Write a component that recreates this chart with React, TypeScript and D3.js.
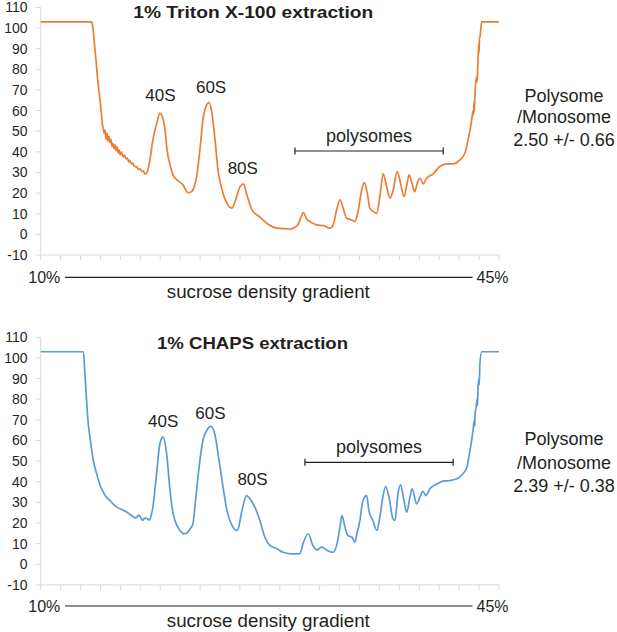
import React from "react";
import * as d3 from "d3";

type Pt = [number, number];

// Fraction index (0..23) vs absorbance (%)
const tritonTrace: Pt[] = [
  [0, 103], [2.56, 103], [2.62, 100], [2.7, 92], [2.77, 85], [2.86, 75], [2.98, 65], [3.06, 57], [3.1, 53],
  [3.13, 52], [3.18, 49], [3.23, 50.5], [3.28, 46], [3.33, 49], [3.38, 45], [3.43, 47.5], [3.48, 44.5],
  [3.53, 46], [3.58, 42.5], [3.63, 44], [3.68, 41.5], [3.73, 43.5], [3.78, 40.5], [3.83, 42.5], [3.88, 39.5],
  [3.93, 41], [3.98, 38.5], [4.05, 40], [4.13, 37.5], [4.2, 38.5], [4.28, 36.5], [4.35, 37], [4.42, 35],
  [4.47, 36], [4.55, 34], [4.63, 34.5], [4.7, 33], [4.82, 32.7], [4.9, 31.5], [4.98, 31.8], [5.08, 30.5],
  [5.15, 30.8], [5.23, 29.2], [5.28, 29.5], [5.33, 30], [5.4, 32], [5.48, 36], [5.63, 45.8], [5.83, 54],
  [5.98, 58.8], [6.09, 57.5], [6.24, 50.6], [6.34, 41], [6.49, 33.7], [6.64, 28.8], [6.84, 26.4], [7.14, 24],
  [7.39, 20.2], [7.54, 20.5], [7.64, 21.5], [7.84, 28.8], [7.99, 41], [8.14, 55.5], [8.34, 63], [8.44, 64],
  [8.59, 59], [8.75, 45.8], [8.9, 31], [9.1, 21.5], [9.35, 15], [9.6, 12.7], [9.75, 15.7], [10.0, 23],
  [10.17, 24.5], [10.35, 19], [10.6, 11.9], [11.0, 8.4], [11.4, 5], [11.86, 3], [12.51, 2.6], [12.67, 3],
  [12.9, 4.5], [13.05, 8], [13.18, 10.5], [13.35, 7.5], [13.51, 6.2], [13.85, 4.6], [14.2, 4.2], [14.52, 3],
  [14.68, 4.6], [14.85, 11.8], [15.02, 16.7], [15.18, 12.7], [15.35, 7.8], [15.6, 7], [15.77, 6.2],
  [15.94, 11.8], [16.11, 21.5], [16.24, 25.1], [16.39, 20], [16.52, 12.7], [16.69, 11], [16.86, 10.2],
  [17.02, 18.3], [17.19, 29.3], [17.36, 23.2], [17.53, 17.5], [17.69, 21.5], [17.89, 30.4], [18.06, 24.8],
  [18.23, 18.3], [18.36, 23.2], [18.49, 28.8], [18.63, 24.8], [18.77, 20.7], [18.9, 24.8], [19.03, 27.2],
  [19.2, 24.5], [19.37, 27.2], [19.7, 29.3], [20.03, 32.9], [20.37, 34.2], [20.7, 34.2], [21.04, 36.1],
  [21.29, 39.4], [21.45, 45.8], [21.63, 55.5], [21.7, 60], [21.72, 58], [21.74, 64], [21.76, 59.5],
  [21.79, 66.9], [21.88, 76.6], [21.9, 73.8], [21.92, 77], [21.96, 87.9], [21.99, 92.5], [22.0, 88],
  [22.02, 95], [22.05, 96], [22.13, 103], [23, 103],
];

const chapsTrace: Pt[] = [
  [0, 103], [2.14, 103], [2.22, 92], [2.3, 80], [2.37, 69.8], [2.47, 61.7], [2.64, 50.3], [2.81, 43.9],
  [2.98, 38.2], [3.14, 35], [3.3, 32.5], [3.48, 30.9], [3.65, 29], [3.83, 27.7], [4.0, 26.8], [4.15, 26.2],
  [4.33, 25.2], [4.5, 24], [4.63, 23.2], [4.75, 22.5], [4.83, 22.8], [4.9, 23.8], [4.98, 23.2], [5.05, 22.2],
  [5.13, 21.2], [5.2, 22.4], [5.33, 22.2], [5.42, 21.5], [5.48, 21.7], [5.55, 24], [5.63, 27.7], [5.73, 36],
  [5.83, 45.5], [5.98, 58.4], [6.14, 61.7], [6.32, 53.6], [6.49, 35.8], [6.6, 27], [6.74, 21.2], [6.99, 16.4],
  [7.19, 14.8], [7.34, 15.2], [7.49, 17], [7.64, 19.6], [7.74, 28], [7.84, 37.4], [7.99, 50.3], [8.14, 60],
  [8.34, 64.9], [8.54, 66.8], [8.75, 62.5], [8.9, 53.6], [9.1, 40.6], [9.35, 26], [9.65, 18], [9.8, 16.4],
  [9.9, 17], [10.1, 26], [10.34, 33.3], [10.5, 31.7], [10.75, 27.7], [11.0, 21.2], [11.25, 13.1], [11.5, 9.1],
  [11.86, 7.5], [12.16, 5.8], [12.66, 5], [13.01, 5.2], [13.16, 9.9], [13.43, 14.8], [13.66, 9.1], [13.86, 7],
  [14.11, 8.3], [14.37, 6.7], [14.67, 5.8], [14.87, 9.9], [15.02, 18], [15.12, 23.6], [15.27, 18],
  [15.42, 13.9], [15.62, 13.1], [15.77, 10.7], [15.87, 14.8], [16.02, 21.2], [16.17, 30.9], [16.36, 33.3],
  [16.47, 26], [16.67, 21.2], [16.87, 16.4], [17.02, 22.8], [17.17, 32.5], [17.31, 37.7], [17.48, 32.5],
  [17.68, 22], [17.78, 21.2], [17.93, 34.2], [18.06, 38.5], [18.23, 30.9], [18.37, 25.2], [18.53, 32.5],
  [18.64, 36.6], [18.87, 29.3], [19.03, 32.5], [19.18, 35.4], [19.33, 33.3], [19.53, 36.6], [19.89, 39],
  [20.19, 40.3], [20.54, 40.6], [20.89, 41.4], [21.19, 43.9], [21.39, 47], [21.54, 55], [21.7, 65],
  [21.76, 70], [21.78, 67], [21.8, 73], [21.85, 76], [21.9, 80], [21.92, 77], [21.95, 86], [22.0, 90],
  [22.01, 87], [22.04, 97], [22.13, 103], [23, 103],
];

const yTicks = [-10, 0, 10, 20, 30, 40, 50, 60, 70, 80, 90, 100, 110];
const xTicks = [0, 1, 2, 3, 4, 5, 6, 7, 8, 9, 10, 11, 12, 13, 14, 15, 16, 17, 18, 19, 20, 21, 22, 23];

const peakNames = ["40S", "60S", "80S"];
const tritonPeakPos: Pt[] = [[6.01, 64.8], [8.55, 68.7], [10.14, 29.3]];
const chapsPeakPos: Pt[] = [[6.15, 66.4], [8.52, 70.4], [10.63, 38.6]];

// polysome bracket: [start, end, level]
const tritonPoly = [12.76, 20.2, 40.4];
const chapsPoly = [13.26, 20.7, 49.4];

const tritonRatio = ["Polysome", "/Monosome", "2.50 +/- 0.66"];
const chapsRatio = ["Polysome", "/Monosome", "2.39 +/- 0.38"];

const FONT = "'Liberation Sans', Arial, sans-serif";

interface PanelProps {
  trace: Pt[];
  color: string;
  y0: number;
  title: string;
  titleX: number;
  titleY: number;
  titleW: number;
  peaks: Pt[];
  poly: number[];
  ratio: string[];
  ratioY: number[];
  gradY: number;
}

function Panel(p: PanelProps) {
  const x = d3.scaleLinear().domain([0, 23]).range([40.7, 499]);
  const y = d3.scaleLinear().domain([-10, 110]).range([p.y0 + 247.6, p.y0]);
  const line = d3
    .line<Pt>()
    .x((d) => x(d[0]))
    .y((d) => y(d[1]))
    .curve(d3.curveMonotoneX);
  const axisY = y(-10);
  const [ps, pe, pl] = p.poly;
  return (
    <g>
      {/* axes */}
      <line x1={x(0)} x2={x(0)} y1={y(110)} y2={axisY} stroke="#d9d9d9" strokeWidth={1} />
      <line x1={x(0)} x2={x(23)} y1={axisY} y2={axisY} stroke="#d9d9d9" strokeWidth={1} />
      {xTicks.map((t) => (
        <line key={t} x1={x(t)} x2={x(t)} y1={axisY} y2={axisY + 5} stroke="#d9d9d9" strokeWidth={1} />
      ))}
      {yTicks.map((t) => (
        <g key={t}>
          <line x1={x(0) - 5} x2={x(0)} y1={y(t)} y2={y(t)} stroke="#d9d9d9" strokeWidth={1} />
          <text x={27.5} y={y(t) + 5} textAnchor="end" fontSize={14} fill="#262626" fontFamily={FONT}>
            {t}
          </text>
        </g>
      ))}
      {/* trace */}
      <path d={line(p.trace) || ""} fill="none" stroke={p.color} strokeWidth={1.7} strokeLinejoin="round" />
      {/* title */}
      <text
        x={p.titleX}
        y={p.titleY}
        fontSize={16.5}
        fontWeight="bold"
        fill="#231f20"
        fontFamily={FONT}
        textLength={p.titleW}
        lengthAdjust="spacingAndGlyphs"
      >
        {p.title}
      </text>
      {/* peak labels */}
      {p.peaks.map((d, i) => (
        <text key={i} x={x(d[0])} y={y(d[1])} textAnchor="middle" fontSize={17} fill="#231f20" fontFamily={FONT}>
          {peakNames[i]}
        </text>
      ))}
      {/* polysome bracket */}
      <text x={x((ps + pe) / 2)} y={y(pl) - 9} textAnchor="middle" fontSize={18} fill="#231f20" fontFamily={FONT}>
        polysomes
      </text>
      <line x1={x(ps)} x2={x(pe)} y1={y(pl)} y2={y(pl)} stroke="#231f20" strokeWidth={1.2} />
      <line x1={x(ps)} x2={x(ps)} y1={y(pl) - 3.5} y2={y(pl) + 3.5} stroke="#231f20" strokeWidth={1.2} />
      <line x1={x(pe)} x2={x(pe)} y1={y(pl) - 3.5} y2={y(pl) + 3.5} stroke="#231f20" strokeWidth={1.2} />
      {/* ratio text */}
      {p.ratio.map((s, i) => (
        <text key={i} x={564} y={p.ratioY[i]} textAnchor="middle" fontSize={18} fill="#231f20" fontFamily={FONT}>
          {s}
        </text>
      ))}
      {/* gradient axis */}
      <text x={28.3} y={p.gradY + 5.8} fontSize={16} fill="#231f20" fontFamily={FONT}>
        10%
      </text>
      <line x1={65} x2={472.5} y1={p.gradY} y2={p.gradY} stroke="#231f20" strokeWidth={1.2} />
      <text x={476.5} y={p.gradY + 5.8} fontSize={16} fill="#231f20" fontFamily={FONT}>
        45%
      </text>
      <text
        x={268.3}
        y={p.gradY + 20.5}
        textAnchor="middle"
        fontSize={18}
        fill="#231f20"
        fontFamily={FONT}
        textLength={203}
        lengthAdjust="spacingAndGlyphs"
      >
        sucrose density gradient
      </text>
    </g>
  );
}

export default function App() {
  return (
    <svg
      width={617}
      height={632}
      viewBox="0 0 617 632"
      style={{ position: "absolute", left: 0, top: 0, background: "#ffffff" }}
    >
      <rect x={0} y={0} width={617} height={632} fill="#ffffff" />
      <Panel
        trace={tritonTrace}
        color="#ed7d31"
        y0={7.4}
        title="1% Triton X-100 extraction"
        titleX={133.3}
        titleY={18.3}
        titleW={240}
        peaks={tritonPeakPos}
        poly={tritonPoly}
        ratio={tritonRatio}
        ratioY={[101.7, 123, 145.5]}
        gradY={277.3}
      />
      <Panel
        trace={chapsTrace}
        color="#5b9bd5"
        y0={337.3}
        title="1% CHAPS extraction"
        titleX={157}
        titleY={349.3}
        titleW={191}
        peaks={chapsPeakPos}
        poly={chapsPoly}
        ratio={chapsRatio}
        ratioY={[445, 468.5, 492]}
        gradY={606}
      />
    </svg>
  );
}
